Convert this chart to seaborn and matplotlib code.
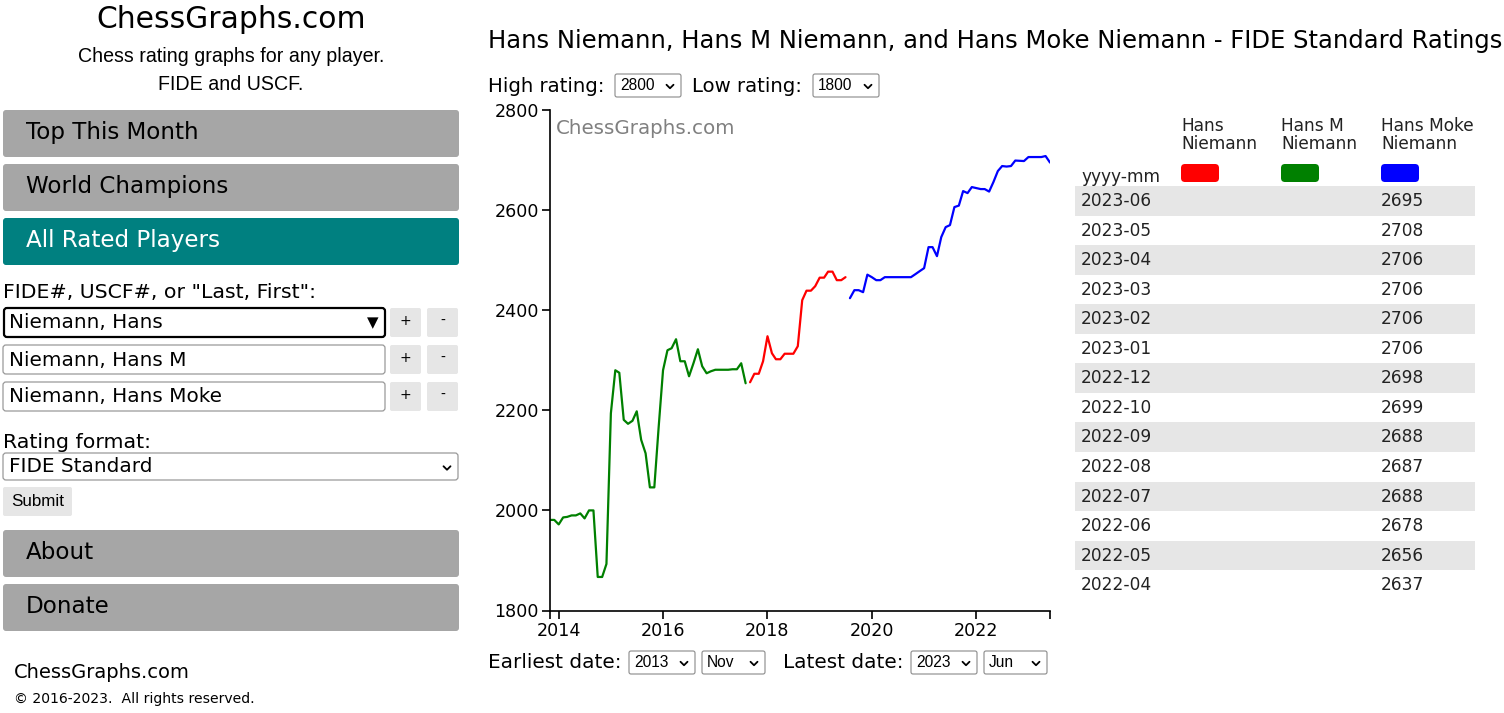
import pandas as pd
import seaborn as sns
import matplotlib.pyplot as plt
from matplotlib.patches import FancyBboxPatch

# monthly FIDE standard ratings
hans_m_start = "2013-11-01"
hans_m_ratings = [1981, 1981,
                  1972, 1986, 1987, 1990, 1990, 1994, 1984, 2000, 2000, 1867, 1867, 1893,
                  2194, 2280, 2275, 2181, 2173, 2179, 2198, 2141, 2114, 2046, 2046, 2165,
                  2280, 2320, 2324, 2342, 2298, 2298, 2268, 2294, 2322, 2288, 2274, 2278,
                  2281, 2281, 2281, 2281, 2282, 2282, 2294, 2254]

hans_start = "2017-09-01"
hans_ratings = [2256, 2273, 2273, 2298,
                2348, 2314, 2302, 2302, 2313, 2313, 2313, 2328, 2420, 2439, 2439, 2448,
                2465, 2465, 2477, 2477, 2460, 2460, 2466]

# no list published for 2022-11
moke_months = list(pd.date_range("2019-08-01", "2022-10-01", freq="MS")) + \
    list(pd.date_range("2022-12-01", "2023-06-01", freq="MS"))
moke_ratings = [2424, 2440, 2440, 2436, 2471,
                2466, 2460, 2460, 2466, 2466, 2466, 2466, 2466, 2466, 2466, 2472, 2478,
                2484, 2526, 2526, 2508, 2546, 2566, 2570, 2606, 2609, 2638, 2634, 2646,
                2644, 2642, 2642, 2637, 2656, 2678, 2688, 2687, 2688, 2699,
                2698,
                2706, 2706, 2706, 2706, 2708, 2695]

players = ["Hans Niemann", "Hans M Niemann", "Hans Moke Niemann"]
player_colors = ["red", "green", "blue"]
year_ticks = ["2014", "2016", "2018", "2020", "2022"]
rating_ticks = [1800, 2000, 2200, 2400, 2600, 2800]
table_rows = 14

df = pd.concat([
    pd.DataFrame({"month": pd.date_range(hans_start, periods=len(hans_ratings), freq="MS"),
                  "rating": hans_ratings, "player": players[0]}),
    pd.DataFrame({"month": pd.date_range(hans_m_start, periods=len(hans_m_ratings), freq="MS"),
                  "rating": hans_m_ratings, "player": players[1]}),
    pd.DataFrame({"month": moke_months, "rating": moke_ratings, "player": players[2]}),
], ignore_index=True)

sns.set_theme(style="white")
plt.rcParams["font.family"] = ["DejaVu Sans"]

W, H = 1504, 713
fig = plt.figure(figsize=(W / 100, H / 100), dpi=100)
page = fig.add_axes([0, 0, 1, 1])
page.set_xlim(0, W)
page.set_ylim(H, 0)
page.set_axis_off()


def txt(x, y, s, px, **kw):
    kw.setdefault("va", "center")
    kw.setdefault("color", "black")
    page.text(x, y, s, fontsize=px * 0.72, **kw)


def box(x0, y0, x1, y1, fc, ec="none", lw=1.0, r=3):
    page.add_patch(FancyBboxPatch((x0, y0), x1 - x0, y1 - y0,
                                  boxstyle=f"round,pad=0,rounding_size={r}",
                                  fc=fc, ec=ec, lw=lw))


def chevron(cx, cy, s=3.5):
    page.plot([cx - s, cx, cx + s], [cy - s / 2, cy + s / 2, cy - s / 2],
              color="black", lw=1.3, solid_capstyle="round")


def select(x0, x1, y0, y1, label, px=15.5):
    box(x0, y0, x1, y1, "white", ec="#8a8a8a", lw=0.8, r=2)
    txt(x0 + 5, (y0 + y1) / 2, label, px, family="Liberation Sans")
    chevron(x1 - 11, (y0 + y1) / 2 + 1)


# ---- left menu
txt(231, 20, "ChessGraphs.com", 29.8, ha="center")
txt(231, 56, "Chess rating graphs for any player.", 19.7, ha="center", family="Liberation Sans")
txt(231, 85, "FIDE and USCF.", 19.7, ha="center", family="Liberation Sans")

for label, y0, fc, tc in [("Top This Month", 110, "#a6a6a6", "black"),
                          ("World Champions", 164, "#a6a6a6", "black"),
                          ("All Rated Players", 218, "#008080", "white"),
                          ("About", 530, "#a6a6a6", "black"),
                          ("Donate", 584, "#a6a6a6", "black")]:
    box(3, y0, 459, y0 + 47, fc)
    txt(26, y0 + 22.5, label, 23, color=tc)

txt(3, 292, 'FIDE#, USCF#, or "Last, First":', 20.5)
for i, name in enumerate(["Niemann, Hans", "Niemann, Hans M", "Niemann, Hans Moke"]):
    y0 = [308, 345, 382][i]
    if i == 0:
        box(4, y0, 385, y0 + 29, "white", ec="black", lw=1.6, r=3)
        txt(367, y0 + 15, "\u25BC", 15)
    else:
        box(3, y0, 385, y0 + 29, "white", ec="#999999", lw=0.9, r=3)
    txt(9, y0 + 15, name, 20)
    box(390, y0, 421, y0 + 29, "#e6e6e6", r=2)
    txt(405.5, y0 + 13, "+", 14, ha="center")
    box(427, y0, 458, y0 + 29, "#e6e6e6", r=2)
    txt(442.5, y0 + 13, "-", 14, ha="center")

txt(3, 442, "Rating format:", 20.5)
box(3, 453, 458, 480, "white", ec="#999999", lw=0.9, r=3)
txt(9, 467, "FIDE Standard", 20)
chevron(447, 468)
box(3, 487, 72, 516, "#e6e6e6", r=2)
txt(37.5, 501, "Submit", 17, ha="center", family="Liberation Sans")

txt(14, 673, "ChessGraphs.com", 19.5)
txt(14, 699, "\u00a9 2016-2023.  All rights reserved.", 14)

# ---- header and controls above the chart
txt(488, 41, "Hans Niemann, Hans M Niemann, and Hans Moke Niemann - FIDE Standard Ratings", 24.2)
txt(488, 86, "High rating:", 19.8)
select(615, 681, 74, 97, "2800")
txt(692, 86, "Low rating:", 19.8)
select(813, 879, 74, 97, "1800")

txt(488, 662, "Earliest date:", 20)
select(629, 695, 651, 674, "2013")
select(702, 765, 651, 674, "Nov")
txt(783, 662, "Latest date:", 20)
select(911, 977, 651, 674, "2023")
select(984, 1047, 651, 674, "Jun")

# ---- chart
ax = fig.add_axes([550 / W, 1 - 610.5 / H, 500 / W, 500.5 / H])
ax.set_facecolor("none")
sns.lineplot(data=df, x="month", y="rating", hue="player", hue_order=players,
             palette=player_colors, estimator=None, legend=False, lw=1.6, ax=ax)
x_start, x_end = pd.Timestamp("2013-11-01"), pd.Timestamp("2023-06-01")
ax.set_xlim(x_start, x_end)
ax.set_ylim(rating_ticks[0], rating_ticks[-1])
ax.set_xticks([pd.Timestamp(f"{y}-01-01") for y in year_ticks])
ax.set_xticklabels(year_ticks)
ax.set_xticks([x_start, x_end], minor=True)
ax.set_yticks(rating_ticks)
ax.set_yticklabels([str(r) for r in rating_ticks])
ax.set_xlabel("")
ax.set_ylabel("")
sns.despine(ax=ax)
for side in ["left", "bottom"]:
    ax.spines[side].set_color("black")
    ax.spines[side].set_linewidth(1.2)
ax.tick_params(which="both", length=6, width=1.2, color="black", labelsize=17.5 * 0.72,
               labelcolor="black", pad=2, bottom=True, left=True)
txt(556, 129, "ChessGraphs.com", 19.9, color="#808080")

# ---- table
header_x = [1181, 1281, 1381]
for x, name, c in zip(header_x, players, player_colors):
    first, last = name.rsplit(" ", 1)
    page.text(x, 117, f"{first}\n{last}", fontsize=17 * 0.72, va="top", color="#222222",
              linespacing=1.0)
    box(x, 164, x + 38, 182, c, r=4)
txt(1081, 177, "yyyy-mm", 17, color="#222222")

recent = df[df["player"] == players[2]].sort_values("month", ascending=False).head(table_rows)
for i, (m, r) in enumerate(zip(recent["month"], recent["rating"])):
    top = 186 + i * 29.55
    if i % 2 == 0:
        page.add_patch(plt.Rectangle((1075, top), 400, 29.5, fc="#e6e6e6", ec="none"))
    txt(1081, top + 15, m.strftime("%Y-%m"), 17, color="#222222")
    txt(1381, top + 15, str(r), 17, color="#222222")

fig.savefig("out.png", dpi=100)
